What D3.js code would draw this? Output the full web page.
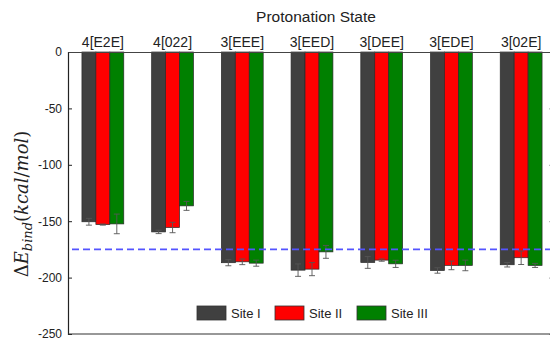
<!DOCTYPE html>
<html>
<head>
<meta charset="utf-8">
<script src="https://cdn.jsdelivr.net/npm/d3@7/dist/d3.min.js"></script>
<style>
  html, body { margin: 0; padding: 0; background: #fff; }
  svg { display: block; }
</style>
</head>
<body>
<svg id="chart" width="550" height="339"></svg>
<script>
// Protonation states along the top axis
const states = ["4[E2E]", "4[022]", "3[EEE]", "3[EED]", "3[DEE]", "3[EDE]", "3[02E]"];
const sites = ["Site I", "Site II", "Site III"];
const siteColors = ["#404040", "#ff0000", "#008000"];

// Binding energies (kcal/mol) per site, one entry per protonation state
const siteI   = [-150.5, -159.5, -186.8, -193.4, -186.6, -193.7, -188.6];
const siteII  = [-153.0, -155.6, -186.0, -192.5, -184.5, -189.2, -182.4];
const siteIII = [-152.4, -136.4, -187.2, -177.2, -187.8, -189.2, -189.2];

// Error bar half-widths
const errI   = [3.0, 1.5, 2.7, 5.5, 5.2, 2.4, 2.0];
const errII  = [0.5, 4.6, 2.5, 5.8, 1.0, 3.8, 6.0];
const errIII = [8.7, 4.0, 2.7, 5.7, 3.2, 4.7, 1.8];

// Reference level drawn as a dashed line
const referenceLevel = -175;

const yTicks = [0, -50, -100, -150, -200, -250];

(function draw() {
  const sans = "'Liberation Sans', Arial, sans-serif";
  const serif = "'DejaVu Serif', 'Liberation Serif', serif";
  const svg = d3.select("#chart");
  const mLeft = 68, mRight = 556, mTop = 52, mBottom = 334;

  const x = d3.scaleBand().domain(states).range([mLeft, mRight]).paddingInner(0.4).paddingOuter(0.2);
  const xSite = d3.scaleBand().domain(sites).range([0, x.bandwidth()]);
  const y = d3.scaleLinear().domain([0, -250]).range([mTop, mBottom]);

  const values = [siteI, siteII, siteIII];
  const errs = [errI, errII, errIII];

  const rows = [];
  states.forEach((s, i) => {
    sites.forEach((site, k) => {
      rows.push({ state: s, site, k, v: values[k][i], e: errs[k][i] });
    });
  });

  // Bars
  svg.append("g").selectAll("rect").data(rows).join("rect")
    .attr("x", d => x(d.state) + xSite(d.site))
    .attr("y", y(0))
    .attr("width", xSite.bandwidth())
    .attr("height", d => y(d.v) - y(0))
    .attr("fill", d => siteColors[d.k])
    .attr("stroke", "#2a2a2a")
    .attr("stroke-width", 0.7);

  // Error bars
  const eg = svg.append("g").attr("stroke", "#555").attr("stroke-width", 0.9);
  rows.forEach(d => {
    const cx = x(d.state) + xSite(d.site) + xSite.bandwidth() / 2;
    eg.append("line").attr("x1", cx).attr("x2", cx).attr("y1", y(d.v - d.e)).attr("y2", y(d.v + d.e));
    eg.append("line").attr("x1", cx - 3).attr("x2", cx + 3).attr("y1", y(d.v - d.e)).attr("y2", y(d.v - d.e));
    eg.append("line").attr("x1", cx - 3).attr("x2", cx + 3).attr("y1", y(d.v + d.e)).attr("y2", y(d.v + d.e));
  });

  // Dashed reference line
  svg.append("line")
    .attr("x1", mLeft + 4).attr("x2", 550)
    .attr("y1", y(referenceLevel)).attr("y2", y(referenceLevel))
    .attr("stroke", "#5454ff").attr("stroke-width", 1.7)
    .attr("stroke-dasharray", "7,4");

  // Left axis with inward ticks
  const yAxis = d3.axisLeft(y).tickValues(yTicks).tickSize(-4).tickPadding(6).tickFormat(d => String(d));
  const ga = svg.append("g").attr("transform", `translate(${mLeft},0)`).call(yAxis);
  ga.select(".domain").attr("stroke", "#222").attr("stroke-width", 1.2);
  ga.selectAll(".tick line").attr("stroke", "#222");
  ga.selectAll(".tick text").attr("font-size", 12).attr("fill", "#222").style("font-family", sans);

  // Right axis (mirror ticks)
  const yAxisR = d3.axisRight(y).tickValues(yTicks).tickSize(-4).tickFormat("");
  const gr = svg.append("g").attr("transform", `translate(553,0)`).call(yAxisR);
  gr.select(".domain").attr("stroke", "#888");
  gr.selectAll(".tick line").attr("stroke", "#aaa");

  // Top axis with state labels
  const xAxis = d3.axisTop(x).tickSize(0).tickPadding(5);
  const gt = svg.append("g").attr("transform", `translate(0,${mTop})`).call(xAxis);
  gt.select(".domain").attr("stroke", "#444").attr("stroke-width", 1.2);
  gt.selectAll(".tick text").attr("font-size", 14).attr("fill", "#222").style("font-family", sans);

  // Bottom frame line
  svg.append("line").attr("x1", mLeft).attr("x2", mRight).attr("y1", mBottom).attr("y2", mBottom)
    .attr("stroke", "#333").attr("stroke-width", 1.2);

  // Top title
  svg.append("text").attr("x", 316).attr("y", 22).attr("text-anchor", "middle")
    .style("font-family", sans).attr("font-size", 15.5).attr("fill", "#222").text("Protonation State");

  // Y axis title: ΔE_bind (kcal/mol)
  const yt = svg.append("text")
    .attr("transform", `translate(28,204) rotate(-90)`)
    .attr("text-anchor", "middle")
    .style("font-family", serif)
    .attr("font-size", 18).attr("fill", "#222");
  yt.append("tspan").text("Δ");
  yt.append("tspan").attr("font-style", "italic").text("E");
  yt.append("tspan").attr("font-style", "italic").attr("font-size", 13).attr("dy", 4).text("bind");
  yt.append("tspan").attr("dy", -4).text("(");
  yt.append("tspan").attr("font-style", "italic").text("kcal");
  yt.append("tspan").text("/");
  yt.append("tspan").attr("font-style", "italic").text("mol");
  yt.append("tspan").text(")");

  // Legend
  const legendX = [197, 275, 357];
  const lg = svg.append("g");
  sites.forEach((s, k) => {
    lg.append("rect").attr("x", legendX[k]).attr("y", 306).attr("width", 29).attr("height", 14)
      .attr("fill", siteColors[k]).attr("stroke", "#333").attr("stroke-width", 0.8);
    lg.append("text").attr("x", legendX[k] + 34).attr("y", 318).style("font-family", sans)
      .attr("font-size", 13).attr("fill", "#222").text(s);
  });
})();
</script>
</body>
</html>
